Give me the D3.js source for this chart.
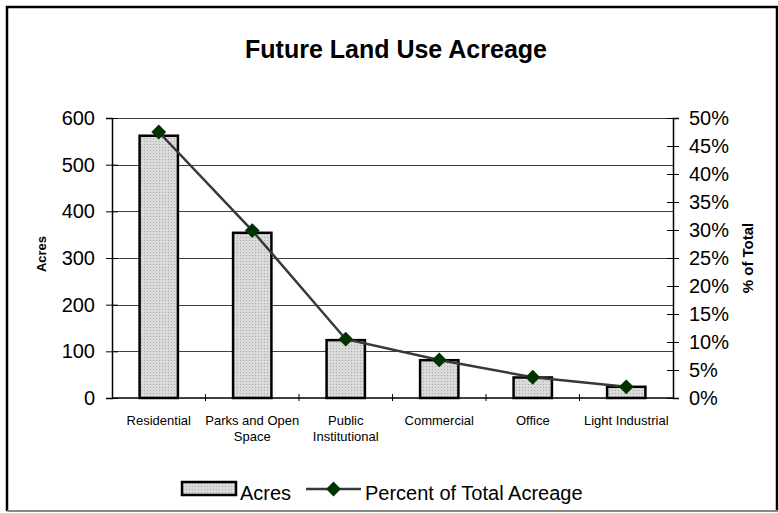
<!DOCTYPE html>
<html>
<head>
<meta charset="utf-8">
<script src="https://cdn.jsdelivr.net/npm/d3@7"></script>
<style>
  body { margin: 0; background: #fff; }
  svg { display: block; font-family: "Liberation Sans", Arial, sans-serif; }
</style>
</head>
<body>
<svg id="chart" width="778" height="513"></svg>
<script>
// data
var categories = ["Residential", "Parks and Open Space", "Public Institutional", "Commercial", "Office", "Light Industrial"];
var acres = [562, 354, 124, 81, 44, 24];
var percentOfTotal = [0.475, 0.299, 0.105, 0.068, 0.037, 0.020];
var acreTicks = [0, 100, 200, 300, 400, 500, 600];
var percentTicks = [0, 0.05, 0.10, 0.15, 0.20, 0.25, 0.30, 0.35, 0.40, 0.45, 0.50];

function drawChart() {
    var svg = d3.select("#chart");

    // plot area
    var plotLeft = 112, plotRight = 673, plotTop = 118, plotBottom = 398;

    // dotted grey fill for the bars
    var defs = svg.append("defs");
    var pat = defs.append("pattern")
        .attr("id", "dots")
        .attr("width", 3).attr("height", 3)
        .attr("patternUnits", "userSpaceOnUse");
    pat.append("rect").attr("width", 3).attr("height", 3).attr("fill", "#dadada");
    pat.append("rect").attr("width", 1).attr("height", 1).attr("fill", "#a8a8a8");

    // frame
    svg.append("path")
        .attr("d", "M7,511 L7,7 L777,7 L777,511")
        .attr("fill", "none").attr("stroke", "#000").attr("stroke-width", 2.5);
    svg.append("line")
        .attr("x1", 7).attr("x2", 778).attr("y1", 511).attr("y2", 511)
        .attr("stroke", "#888").attr("stroke-width", 2);

    // title
    svg.append("text")
        .attr("x", 396).attr("y", 58)
        .attr("text-anchor", "middle")
        .attr("font-size", 25).attr("font-weight", "bold")
        .text("Future Land Use Acreage");

    // scales
    var x = d3.scaleBand().domain(categories).range([plotLeft, plotRight]).paddingInner(0).paddingOuter(0);
    var yLeft = d3.scaleLinear().domain([0, 600]).range([plotBottom, plotTop]);
    var yRight = d3.scaleLinear().domain([0, 0.5]).range([plotBottom, plotTop]);

    // gridlines
    svg.append("g")
        .selectAll("line")
        .data(acreTicks.filter(function(d) { return d > 0; }))
        .enter().append("line")
        .attr("x1", plotLeft).attr("x2", plotRight)
        .attr("y1", function(d) { return Math.round(yLeft(d)) + 0.5; })
        .attr("y2", function(d) { return Math.round(yLeft(d)) + 0.5; })
        .attr("stroke", "#404040").attr("stroke-width", 1);

    // bars
    var barW = x.bandwidth() * 0.41;
    svg.append("g")
        .selectAll("rect")
        .data(acres)
        .enter().append("rect")
        .attr("x", function(d, i) { return x(categories[i]) + x.bandwidth() / 2 - barW / 2; })
        .attr("y", function(d) { return yLeft(d); })
        .attr("width", barW)
        .attr("height", function(d) { return plotBottom - yLeft(d); })
        .attr("fill", "url(#dots)")
        .attr("stroke", "#000").attr("stroke-width", 2.5);

    // left axis
    var axL = svg.append("g")
        .attr("transform", "translate(" + plotLeft + ",0)")
        .call(d3.axisLeft(yLeft).tickValues(acreTicks).tickSize(6).tickPadding(11));
    axL.selectAll(".tick line").attr("x1", -6).attr("x2", 6);
    axL.selectAll("text").attr("font-size", 20).attr("font-family", null).attr("fill", "#000");
    axL.select(".domain").attr("stroke-width", 1.5);

    // right axis
    var axR = svg.append("g")
        .attr("transform", "translate(" + plotRight + ",0)")
        .call(d3.axisRight(yRight).tickValues(percentTicks).tickSize(6).tickPadding(10)
            .tickFormat(d3.format(".0%")));
    axR.selectAll(".tick line").attr("x1", -6).attr("x2", 6);
    axR.selectAll("text").attr("font-size", 20).attr("font-family", null).attr("fill", "#000");
    axR.select(".domain").attr("stroke-width", 1.5);

    // bottom axis: ticks at category boundaries
    var axB = svg.append("g").attr("transform", "translate(0," + plotBottom + ")");
    axB.append("line").attr("x1", plotLeft).attr("x2", plotRight).attr("stroke", "#000").attr("stroke-width", 1.5);
    axB.selectAll(".sep")
        .data(categories.slice(1))
        .enter().append("line")
        .attr("x1", function(d) { return x(d); }).attr("x2", function(d) { return x(d); })
        .attr("y1", -4).attr("y2", 3)
        .attr("stroke", "#000");

    // category labels, wrapped
    var lab = svg.append("g").selectAll("text")
        .data(categories)
        .enter().append("text")
        .attr("x", function(d) { return x(d) + x.bandwidth() / 2; })
        .attr("y", 425)
        .attr("text-anchor", "middle")
        .attr("font-size", 13)
        .text(function(d) { return d; });
    lab.each(function(d) {
        var t = d3.select(this), words = d.split(" "), line = [];
        var cx = t.attr("x");
        t.text(null);
        var span = t.append("tspan").attr("x", cx);
        words.forEach(function(w) {
            line.push(w);
            span.text(line.join(" "));
            if (span.node().getComputedTextLength() > 100 && line.length > 1) {
                line.pop();
                span.text(line.join(" "));
                line = [w];
                span = t.append("tspan").attr("x", cx).attr("dy", 16).text(w);
            }
        });
    });

    // axis titles
    svg.append("text")
        .attr("transform", "translate(46,254) rotate(-90)")
        .attr("text-anchor", "middle")
        .attr("font-size", 13).attr("font-weight", "bold")
        .text("Acres");
    svg.append("text")
        .attr("transform", "translate(753,258) rotate(-90)")
        .attr("text-anchor", "middle")
        .attr("font-size", 15).attr("font-weight", "bold")
        .text("% of Total");

    // percent line
    var pline = d3.line()
        .x(function(d, i) { return x(categories[i]) + x.bandwidth() / 2; })
        .y(function(d) { return yRight(d); });
    svg.append("path")
        .datum(percentOfTotal)
        .attr("d", pline)
        .attr("fill", "none").attr("stroke", "#383838").attr("stroke-width", 2.5);

    var diamond = d3.symbol().type(d3.symbolSquare).size(110);
    svg.append("g").selectAll("path")
        .data(percentOfTotal)
        .enter().append("path")
        .attr("d", diamond)
        .attr("transform", function(d, i) {
            return "translate(" + (x(categories[i]) + x.bandwidth() / 2) + "," + yRight(d) + ") rotate(45)";
        })
        .attr("fill", "#003300");

    // legend
    var leg = svg.append("g");
    leg.append("rect")
        .attr("x", 182).attr("y", 482).attr("width", 54).attr("height", 13)
        .attr("fill", "url(#dots)").attr("stroke", "#000").attr("stroke-width", 2.5);
    leg.append("text").attr("x", 240).attr("y", 500).attr("font-size", 20).text("Acres");
    leg.append("line")
        .attr("x1", 306).attr("x2", 361).attr("y1", 489).attr("y2", 489)
        .attr("stroke", "#383838").attr("stroke-width", 2.5);
    leg.append("path")
        .attr("d", diamond)
        .attr("transform", "translate(333.5,489) rotate(45)")
        .attr("fill", "#003300");
    leg.append("text").attr("x", 365).attr("y", 500).attr("font-size", 20).text("Percent of Total Acreage");
}

drawChart();
</script>
</body>
</html>
